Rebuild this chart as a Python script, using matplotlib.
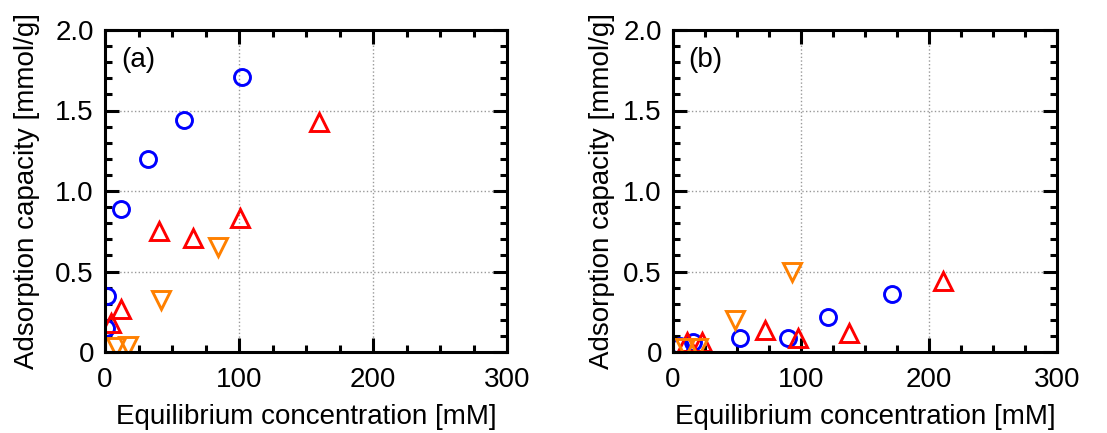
import matplotlib
matplotlib.use("Agg")
import matplotlib.pyplot as plt
from matplotlib.ticker import MultipleLocator

plt.rcParams['font.family'] = ['Liberation Sans', 'DejaVu Sans']

# panel (a)
a_circle_x = [1.0, 1.7, 11.7, 32, 59, 102.5]
a_circle_y = [0.15, 0.35, 0.89, 1.20, 1.44, 1.71]
a_up_x = [4.7, 11.7, 40, 65.4, 100.5, 160]
a_up_y = [0.18, 0.27, 0.75, 0.71, 0.83, 1.43]
a_down_x = [8.2, 17.4, 42, 84.6]
a_down_y = [0.03, 0.04, 0.32, 0.65]

# panel (b)
b_circle_x = [5.5, 15.9, 52.3, 89.6, 121, 171]
b_circle_y = [0.035, 0.065, 0.09, 0.085, 0.22, 0.36]
b_up_x = [10.7, 22.9, 71.9, 97.4, 137.8, 210.7]
b_up_y = [0.065, 0.06, 0.137, 0.09, 0.115, 0.44]
b_down_x = [9.4, 19.8, 48.4, 92.7]
b_down_y = [0.023, 0.023, 0.20, 0.50]

panels = [
    ("(a)", a_circle_x, a_circle_y, a_up_x, a_up_y, a_down_x, a_down_y),
    ("(b)", b_circle_x, b_circle_y, b_up_x, b_up_y, b_down_x, b_down_y),
]

fig = plt.figure(figsize=(11.07, 4.33), dpi=100)
boxes = [[105/1107, 81/433, 402/1107, 322/433],
         [673/1107, 81/433, 384/1107, 322/433]]
ylabpads = [11, 6]

fs = 20
for box, lp, (tag, cx, cy, ux, uy, dx, dy) in zip(boxes, ylabpads, panels):
    ax = fig.add_axes(box)
    ax.plot(cx, cy, 'o', ms=11.5, mfc='none', mec='#0000ff', mew=2.1, ls='none')
    ax.plot(ux, uy, '^', ms=13, mfc='none', mec='#ff0000', mew=2.1, ls='none')
    ax.plot(dx, dy, 'v', ms=13, mfc='none', mec='#ff8000', mew=2.1, ls='none')
    ax.set_xlim(0, 300)
    ax.set_ylim(0, 2.0)
    ax.xaxis.set_major_locator(MultipleLocator(100))
    ax.xaxis.set_minor_locator(MultipleLocator(25))
    ax.yaxis.set_major_locator(MultipleLocator(0.5))
    ax.yaxis.set_minor_locator(MultipleLocator(0.1))
    ax.set_yticks([0, 0.5, 1.0, 1.5, 2.0])
    ax.set_yticklabels(["0", "0.5", "1.0", "1.5", "2.0"])
    ax.tick_params(which='both', direction='in', top=True, right=True,
                   width=2.2, labelsize=fs, pad=8)
    ax.tick_params(axis='x', which='major', pad=11)
    ax.tick_params(which='major', length=10)
    ax.tick_params(which='minor', length=5)
    for s in ax.spines.values():
        s.set_linewidth(2.2)
    ax.grid(True, which='major', ls=':', color='#999999', lw=1.0)
    ax.set_xlabel("Equilibrium concentration [mM]", fontsize=fs, labelpad=8)
    ax.set_ylabel("Adsorption capacity [mmol/g]", fontsize=fs, labelpad=lp)
    ax.text(0.04, 0.885, tag, transform=ax.transAxes, fontsize=fs)

fig.savefig("out.png", dpi=100)
